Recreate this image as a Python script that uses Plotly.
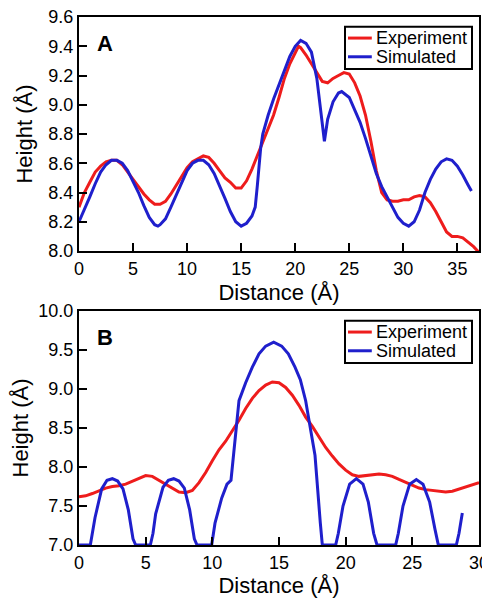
import plotly.graph_objects as go

# ---------------- Panel A data ----------------
exp_a_x = [0, 0.5, 1.0, 1.5, 2.0, 2.5, 3.0, 3.5, 4.0, 4.5, 5.0, 5.5, 6.0, 6.5, 7.0, 7.5,
           8.0, 8.5, 9.0, 9.5, 10.0, 10.5, 11.0, 11.5, 12.0, 12.5, 13.0, 13.5, 14.0, 14.5,
           15.0, 15.5, 16.0, 16.5, 17.0, 17.5, 18.0, 18.5, 19.0, 19.5, 20.0, 20.3, 20.5,
           21.0, 21.5, 22.0, 22.5, 23.0, 23.5, 24.0, 24.5, 25.0, 25.5, 26.0, 26.5, 27.0,
           27.5, 28.0, 28.5, 29.0, 29.5, 30.0, 30.5, 31.0, 31.5, 32.0, 32.5, 33.0, 33.5,
           34.0, 34.5, 35.0, 35.5, 36.0, 36.5, 37.0]
exp_a_y = [8.30, 8.40, 8.47, 8.54, 8.58, 8.61, 8.62, 8.62, 8.59, 8.54, 8.49, 8.44, 8.39, 8.35,
           8.32, 8.32, 8.34, 8.39, 8.45, 8.51, 8.57, 8.61, 8.63, 8.65, 8.64, 8.60, 8.55, 8.50,
           8.47, 8.43, 8.43, 8.48, 8.56, 8.65, 8.74, 8.83, 8.93, 9.05, 9.18, 9.28, 9.36, 9.40,
           9.39, 9.34, 9.28, 9.22, 9.16, 9.15, 9.18, 9.20, 9.22, 9.21, 9.15, 9.06, 8.93, 8.75,
           8.55, 8.40, 8.35, 8.34, 8.34, 8.35, 8.35, 8.37, 8.38, 8.37, 8.33, 8.27, 8.20, 8.13,
           8.10, 8.10, 8.09, 8.06, 8.03, 7.99]

sim_a_x = [0, 0.5, 1.0, 1.5, 2.0, 2.5, 3.0, 3.5, 4.0, 4.5, 5.0, 5.5, 6.0, 6.5, 7.0, 7.3, 7.5,
           8.0, 8.5, 9.0, 9.5, 10.0, 10.5, 11.0, 11.5, 12.0, 12.5, 13.0, 13.5, 14.0, 14.5,
           15.0, 15.5, 16.0, 16.3, 16.5, 16.8, 17.0, 17.5, 18.0, 18.5, 19.0, 19.5, 20.0,
           20.5, 21.0, 21.5, 22.0, 22.3, 22.7, 23.0, 23.5, 24.0, 24.3, 25.0, 25.5, 26.0,
           26.5, 27.0, 27.5, 28.0, 28.5, 29.0, 29.5, 30.0, 30.5, 31.0, 31.5, 32.0, 32.5,
           33.0, 33.5, 34.0, 34.5, 35.0, 35.5, 36.0, 36.3]
sim_a_y = [8.20, 8.28, 8.37, 8.46, 8.54, 8.59, 8.62, 8.62, 8.60, 8.55, 8.48, 8.40, 8.31, 8.23,
           8.18, 8.17, 8.18, 8.22, 8.30, 8.38, 8.47, 8.55, 8.60, 8.62, 8.62, 8.59, 8.53, 8.45,
           8.36, 8.27, 8.20, 8.17, 8.19, 8.24, 8.30, 8.45, 8.70, 8.80, 8.93, 9.04, 9.14, 9.24,
           9.33, 9.40, 9.44, 9.42, 9.36, 9.18, 9.00, 8.75, 8.90, 9.02, 9.08, 9.09, 9.05, 8.97,
           8.88, 8.77, 8.65, 8.53, 8.44, 8.37, 8.30, 8.23, 8.19, 8.17, 8.20, 8.28, 8.40, 8.49,
           8.56, 8.61, 8.63, 8.62, 8.58, 8.52, 8.45, 8.41]

# ---------------- Panel B data ----------------
exp_b_x = [0, 0.5, 1.0, 1.5, 2.0, 2.5, 3.0, 3.5, 4.0, 4.5, 5.0, 5.5, 6.0, 6.5, 7.0, 7.5,
           8.0, 8.5, 9.0, 9.5, 10.0, 10.5, 11.0, 11.5, 12.0, 12.5, 13.0, 13.5, 14.0, 14.5,
           15.0, 15.5, 16.0, 16.5, 17.0, 17.5, 18.0, 18.5, 19.0, 19.5, 20.0, 20.5, 21.0,
           21.5, 22.0, 22.5, 23.0, 23.5, 24.0, 24.5, 25.0, 25.5, 26.0, 26.5, 27.0, 27.5,
           28.0, 28.5, 29.0, 29.5, 30.0]
exp_b_y = [7.62, 7.63, 7.66, 7.70, 7.73, 7.75, 7.76, 7.78, 7.82, 7.86, 7.89, 7.88, 7.83, 7.78,
           7.72, 7.68, 7.67, 7.70, 7.80, 7.93, 8.08, 8.22, 8.33, 8.46, 8.60, 8.75, 8.88, 8.98,
           9.05, 9.09, 9.08, 9.02, 8.92, 8.79, 8.64, 8.52, 8.39, 8.25, 8.14, 8.04, 7.96, 7.90,
           7.88, 7.89, 7.90, 7.91, 7.90, 7.88, 7.84, 7.80, 7.76, 7.73, 7.71, 7.70, 7.69, 7.68,
           7.69, 7.72, 7.74, 7.77, 7.80]

sim_b_x = [0, 0.85, 1.2, 1.7, 2.1, 2.5, 2.9, 3.3, 3.7, 4.05, 4.25, 5.35, 5.55, 5.75, 6.3,
           6.7, 7.1, 7.5, 7.9, 8.3, 8.65, 8.85, 9.95, 10.2, 10.7, 11.1, 11.4, 11.7, 12.0,
           12.5, 13.0, 13.5, 14.0, 14.6, 15.2, 15.7, 16.2, 16.6, 17.0, 17.4, 17.7, 18.1,
           18.25, 19.25, 19.45, 19.8, 20.3, 20.8, 21.3, 21.7, 22.1, 22.35, 23.75, 23.95,
           24.3, 24.8, 25.3, 25.8, 26.3, 26.7, 26.95, 28.3, 28.5, 28.75]
sim_b_y = [7.0, 7.0, 7.35, 7.72, 7.83, 7.85, 7.82, 7.72, 7.45, 7.08, 7.0, 7.0, 7.15, 7.40,
           7.74, 7.83, 7.85, 7.82, 7.73, 7.45, 7.08, 7.0, 7.0, 7.28, 7.60, 7.78, 7.83, 8.37,
           8.85, 9.08, 9.28, 9.45, 9.55, 9.60, 9.55, 9.45, 9.28, 9.12, 8.85, 8.45, 8.15,
           7.28, 7.0, 7.0, 7.15, 7.50, 7.78, 7.85, 7.78, 7.55, 7.15, 7.0, 7.0, 7.15, 7.50,
           7.78, 7.84, 7.78, 7.55, 7.20, 7.0, 7.0, 7.15, 7.41]

series_names = ["Experiment", "Simulated"]
panel_labels = ["A", "B"]
x_title = "Distance (Å)"
y_title = "Height (Å)"

RED = "#ee1c1c"
BLUE = "#1f1fcc"
COLORS = [RED, BLUE]
FONT = "Liberation Sans, Arial, Helvetica, sans-serif"

fig = go.Figure()
fig.add_trace(go.Scatter(x=exp_a_x, y=exp_a_y, name=series_names[0], mode="lines",
                         line=dict(color=RED, width=3), xaxis="x", yaxis="y"))
fig.add_trace(go.Scatter(x=sim_a_x, y=sim_a_y, name=series_names[1], mode="lines",
                         line=dict(color=BLUE, width=3), xaxis="x", yaxis="y"))
fig.add_trace(go.Scatter(x=exp_b_x, y=exp_b_y, name=series_names[0], mode="lines",
                         line=dict(color=RED, width=3), xaxis="x2", yaxis="y2"))
fig.add_trace(go.Scatter(x=sim_b_x, y=sim_b_y, name=series_names[1], mode="lines",
                         line=dict(color=BLUE, width=3), xaxis="x2", yaxis="y2"))

axis_common = dict(showline=True, linecolor="black", linewidth=2, mirror=True,
                   ticks="inside", ticklen=8, tickwidth=2, tickcolor="black",
                   showgrid=False, zeroline=False, automargin=False,
                   ticklabeloverflow="allow",
                   tickfont=dict(family=FONT, size=18, color="black"),
                   title_font=dict(family=FONT, size=22, color="black"))

# Legend boxes drawn inside each panel (relative to the panel's domain)
shapes = []
annotations = []
for xname, yname, label in [("x", "y", panel_labels[0]), ("x2", "y2", panel_labels[1])]:
    xr = xname + " domain"
    yr = yname + " domain"
    shapes.append(dict(type="rect", xref=xr, yref=yr, x0=0.665, x1=0.9825, y0=0.778, y1=0.958,
                       line=dict(color="black", width=2), fillcolor="white", layer="above"))
    for i, (nm, col) in enumerate(zip(series_names, COLORS)):
        yy = [0.910, 0.830][i]
        shapes.append(dict(type="line", xref=xr, yref=yr, x0=0.6725, x1=0.732, y0=yy, y1=yy,
                           line=dict(color=col, width=3), layer="above"))
        annotations.append(dict(text=nm, xref=xr, yref=yr, x=0.738, y=yy, xanchor="left",
                                yanchor="middle", showarrow=False,
                                font=dict(family=FONT, size=18, color="black")))
    annotations.append(dict(text="<b>%s</b>" % label, xref=xr, yref=yr, x=0.064, y=0.885,
                            xanchor="center", yanchor="middle", showarrow=False,
                            font=dict(family=FONT, size=22, color="black")))

# The page body has an 8px margin, so the figure is sized/offset to compensate.
fig.update_layout(
    width=482, height=590,
    margin=dict(l=71, r=11, t=9, b=53),
    paper_bgcolor="white", plot_bgcolor="white",
    showlegend=False,
    xaxis=dict(axis_common, domain=[0, 1], anchor="y", range=[0, 37], dtick=5, tick0=0,
               title=dict(text=x_title, standoff=7)),
    yaxis=dict(axis_common, domain=[0.5568, 1], anchor="x", range=[8.0, 9.6], dtick=0.2,
               tick0=8.0, tickformat=".1f", title=dict(text=y_title, standoff=10)),
    xaxis2=dict(axis_common, domain=[0, 1], anchor="y2", range=[0, 30], dtick=5, tick0=0,
                title=dict(text=x_title, standoff=7)),
    yaxis2=dict(axis_common, domain=[0, 0.4432], anchor="x2", range=[7.0, 10.0], dtick=0.5,
                tick0=7.0, tickformat=".1f", title=dict(text=y_title, standoff=10)),
    shapes=shapes,
    annotations=annotations,
)

fig.write_html("out.html")
